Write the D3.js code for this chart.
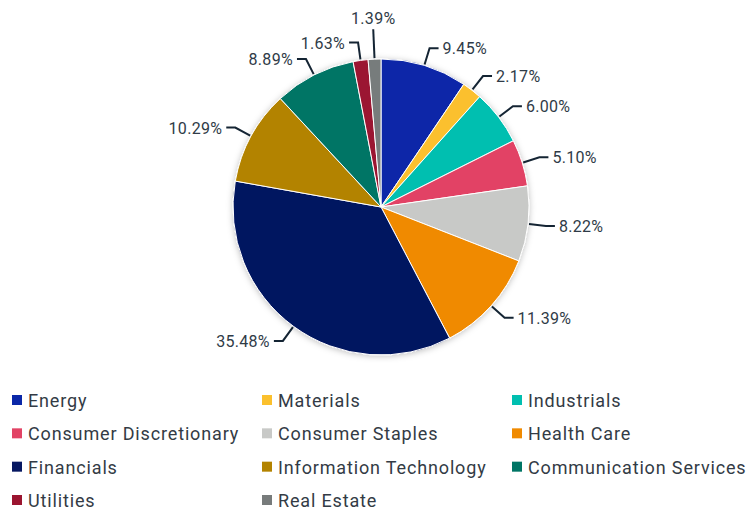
<!DOCTYPE html>
<html>
<head>
<meta charset="utf-8">
<script src="https://cdn.jsdelivr.net/npm/d3@7"></script>
<style>
    body { margin: 0; background: #fff; }
    svg { display: block; font-family: Roboto, "Noto Sans", sans-serif; }
</style>
</head>
<body>
<svg id="chart" width="747" height="510"></svg>
<script>
// sector weights, clockwise from 12 o'clock
var sectors = ["Energy", "Materials", "Industrials", "Consumer Discretionary", "Consumer Staples",
    "Health Care", "Financials", "Information Technology", "Communication Services", "Utilities", "Real Estate"];
var weights = [9.45, 2.17, 6.00, 5.10, 8.22, 11.39, 35.48, 10.29, 8.89, 1.63, 1.39];
var colors = ["#0a27a8", "#fbc02d", "#00bfb0", "#e24365", "#c8c9c7",
    "#f08a00", "#061761", "#b38300", "#007565", "#9b1530", "#777b7b"];

var svg = d3.select("#chart"),
    cx = 381, cy = 207, radius = 148;

var color = d3.scaleOrdinal().domain(sectors).range(colors);

var defs = svg.append("defs");
defs.append("filter")
    .attr("id", "shadow")
    .attr("x", "-20%").attr("y", "-20%").attr("width", "140%").attr("height", "140%")
    .append("feDropShadow")
    .attr("dx", 0).attr("dy", 1)
    .attr("stdDeviation", 3)
    .attr("flood-color", "#000")
    .attr("flood-opacity", 0.25);

var pie = d3.pie().sort(null).value(function (d) { return d.value; });
var arcs = pie(sectors.map(function (s, i) { return { name: s, value: weights[i] }; }));

var arc = d3.arc().innerRadius(0).outerRadius(radius);

var g = svg.append("g").attr("transform", "translate(" + cx + "," + cy + ")");

g.append("g")
    .attr("filter", "url(#shadow)")
    .selectAll("path")
    .data(arcs)
    .enter().append("path")
    .attr("d", arc)
    .attr("fill", function (d) { return color(d.data.name); })
    .attr("stroke", "#fff")
    .attr("stroke-width", 1);

// leader lines + labels
function mid(d) { return (d.startAngle + d.endAngle) / 2; }
function at(a, r) { return [Math.sin(a) * r, -Math.cos(a) * r]; }

var labels = g.append("g");
arcs.forEach(function (d) {
    var a = mid(d);
    var p0 = at(a, radius + 1);
    var p1 = at(a, radius + 18);
    var txt = d.data.value.toFixed(2) + "%";
    var top = Math.abs(p1[0]) < 12;
    var side = p1[0] >= 0 ? 1 : -1;
    var pts, tx, ty, anchor;
    if (top) {
        p1 = at(a, radius + 30);
        pts = [p0, p1];
        tx = p1[0]; ty = p1[1] - 5; anchor = "middle";
    } else {
        var p2 = [p1[0] + side * 9, p1[1]];
        pts = [p0, p1, p2];
        tx = p2[0] + side * 4; ty = p2[1] + 6; anchor = side > 0 ? "start" : "end";
    }
    labels.append("path")
        .attr("d", d3.line()(pts))
        .attr("fill", "none")
        .attr("stroke", "#142433")
        .attr("stroke-width", 2);
    labels.append("text")
        .attr("x", tx)
        .attr("y", ty)
        .attr("text-anchor", anchor)
        .attr("font-size", 16)
        .attr("letter-spacing", 0.3)
        .attr("fill", "#2f3b47")
        .text(txt);
});

// legend, 3 columns
var legend = svg.append("g").attr("class", "legend");
var col = d3.scaleOrdinal().domain([0, 1, 2]).range([12, 262, 512]);
var row = d3.scaleLinear().domain([0, 3]).range([400, 500]);

var item = legend.selectAll("g")
    .data(sectors)
    .enter().append("g")
    .attr("transform", function (d, i) {
        return "translate(" + col(i % 3) + "," + row(Math.floor(i / 3)) + ")";
    });

item.append("rect")
    .attr("x", 0).attr("y", -5)
    .attr("width", 10).attr("height", 10)
    .attr("fill", function (d) { return color(d); });

item.append("text")
    .attr("x", 16)
    .attr("y", 7)
    .attr("font-size", 18)
    .attr("letter-spacing", 0.85)
    .attr("fill", "#333b45")
    .text(function (d) { return d; });
</script>
</body>
</html>
